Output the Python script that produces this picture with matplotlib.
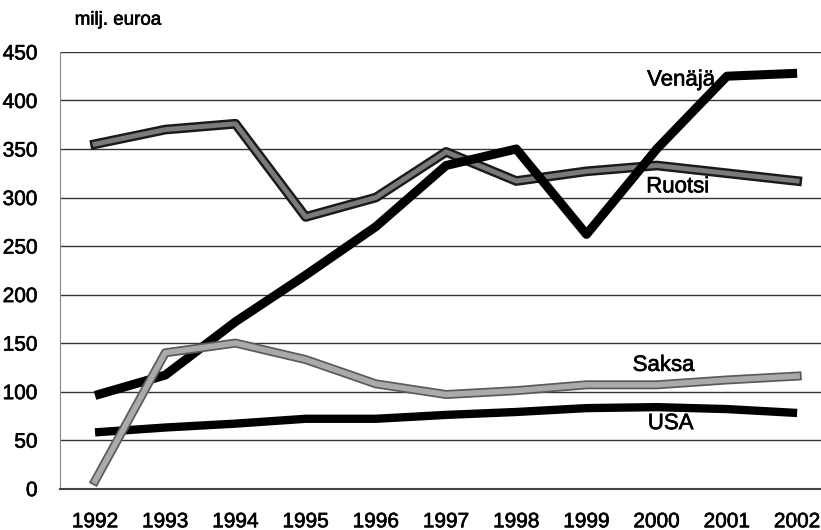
import matplotlib.pyplot as plt
import matplotlib.patheffects as pe

plt.rcParams['font.family'] = ['Liberation Sans', 'DejaVu Sans']

years = [1992, 1993, 1994, 1995, 1996, 1997, 1998, 1999, 2000, 2001, 2002]
venaja = [96, 117, 172, 220, 270, 333, 350, 262, 350, 425, 428]
ruotsi = [355, 370, 376, 280, 300, 347, 317, 327, 333, 325, 317]
saksa = [8, 140, 150, 133, 108, 97, 101, 107, 107, 112, 116]
usa = [58, 63, 67, 72, 72, 76, 79, 83, 84, 82, 78]

x = list(range(len(years)))

# skannattu teksti näyttää vähän lihavammalta
heavy = [pe.withStroke(linewidth=0.45, foreground="black")]

fig = plt.figure(figsize=(8.21, 5.30), dpi=100)
ax = fig.add_axes([0.073, 0.078, 0.927, 0.824])

for v in range(50, 451, 50):
    ax.axhline(v, color="#333333", lw=1, zorder=1)

# harmaat viivat: tumma reuna + rasteri
ax.plot(x, ruotsi, color="#7a7a7a", lw=3.5, zorder=3,
        path_effects=[pe.Stroke(linewidth=7, foreground="#1a1a1a"), pe.Normal()])
ax.plot(x, saksa, color="#aaaaaa", lw=4, zorder=4,
        path_effects=[pe.Stroke(linewidth=6.5, foreground="#5a5a5a"), pe.Normal()])
ax.plot(x, venaja, color="black", lw=6.5, zorder=3, solid_capstyle="butt")
ax.plot(x, usa, color="black", lw=6, zorder=3, solid_capstyle="butt")

for label, lx, ly in [("Venäjä", 8.35, 421), ("Ruotsi", 8.3, 311),
                      ("Saksa", 8.1, 127), ("USA", 8.2, 67)]:
    ax.text(lx, ly, label, fontsize=16, ha="center", va="center", zorder=5,
            path_effects=heavy)

ax.set_xlim(-0.5, 10.34)
ax.set_ylim(0, 450)
ax.set_xticks(x)
ax.set_xticklabels([str(y) for y in years])
ax.set_yticks(range(0, 451, 50))
ax.tick_params(axis="both", labelsize=15, length=0)
ax.tick_params(axis="x", pad=17)
ax.tick_params(axis="y", pad=16)
for t in ax.get_xticklabels() + ax.get_yticklabels():
    t.set_path_effects(heavy)

for s in ["top", "right"]:
    ax.spines[s].set_visible(False)
ax.spines["left"].set_color("#888888")
ax.spines["bottom"].set_color("#444444")
ax.spines["bottom"].set_linewidth(1.5)

fig.text(0.091, 0.962, "milj. euroa", fontsize=13.5, ha="left", va="center",
         path_effects=heavy)

fig.savefig("out.png", dpi=100)
